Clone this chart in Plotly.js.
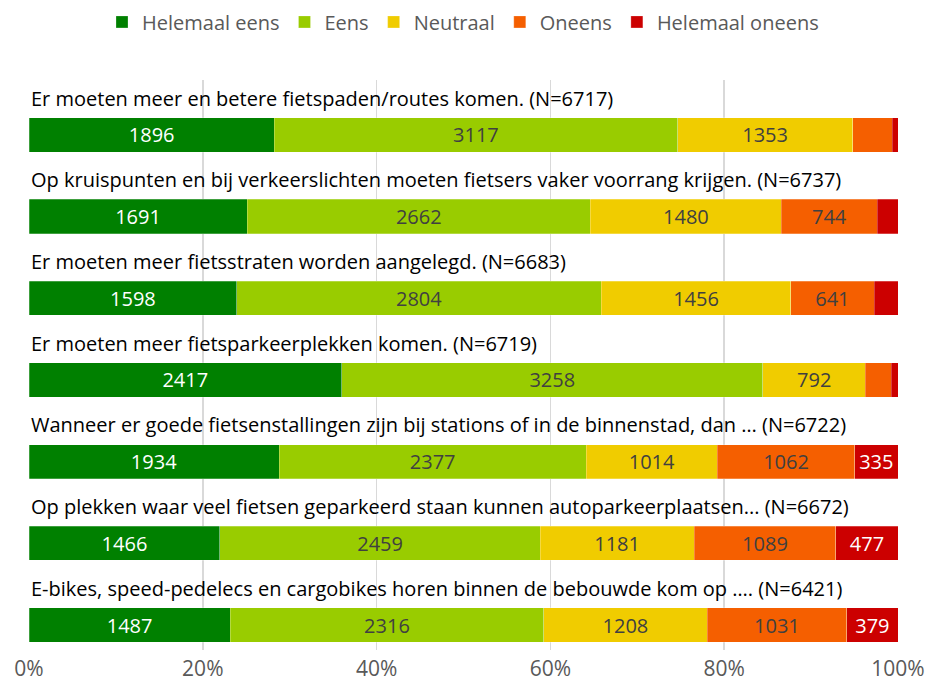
<!DOCTYPE html>
<html>
<head>
<meta charset="utf-8">
<script src="https://cdn.plot.ly/plotly-3.0.1.min.js"></script>
<style>
  html, body { margin: 0; padding: 0; background: #fff; }
  #plot { width: 926px; height: 685px; }
</style>
</head>
<body>
<div id="plot"></div>
<script>
// statements, top to bottom
var statements = [
  "Er moeten meer en betere fietspaden/routes komen. (N=6717)",
  "Op kruispunten en bij verkeerslichten moeten fietsers vaker voorrang krijgen. (N=6737)",
  "Er moeten meer fietsstraten worden aangelegd. (N=6683)",
  "Er moeten meer fietsparkeerplekken komen. (N=6719)",
  "Wanneer er goede fietsenstallingen zijn bij stations of in de binnenstad, dan … (N=6722)",
  "Op plekken waar veel fietsen geparkeerd staan kunnen autoparkeerplaatsen... (N=6672)",
  "E-bikes, speed-pedelecs en cargobikes horen binnen de bebouwde kom op …. (N=6421)"
];

// counts per answer
var helemaalEens   = [1896, 1691, 1598, 2417, 1934, 1466, 1487];
var eens           = [3117, 2662, 2804, 3258, 2377, 2459, 2316];
var neutraal       = [1353, 1480, 1456,  792, 1014, 1181, 1208];
var oneens         = [ 308,  744,  641,  201, 1062, 1089, 1031];
var helemaalOneens = [  43,  160,  184,   51,  335,  477,  379];

var names  = ["Helemaal eens", "Eens", "Neutraal", "Oneens", "Helemaal oneens"];
var colors = ["#008000", "#99cc00", "#f0cc00", "#f55f00", "#cc0000"];
var textColors = ["#ffffff", "#404040", "#404040", "#404040", "#ffffff"];
var series = [helemaalEens, eens, neutraal, oneens, helemaalOneens];

var FONT = "'Open Sans', sans-serif";

var totals = statements.map(function (s, i) {
  return series.reduce(function (acc, arr) { return acc + arr[i]; }, 0);
});
var rows = statements.map(function (s, i) { return i; });

var traces = series.map(function (vals, k) {
  var pct = vals.map(function (v, i) { return v / totals[i] * 100; });
  return {
    type: "bar",
    orientation: "h",
    name: names[k],
    y: rows,
    x: pct,
    width: 0.42,
    text: vals.map(function (v, i) { return pct[i] < 4.8 ? "" : String(v); }),
    textposition: "inside",
    insidetextanchor: "middle",
    textangle: 0,
    insidetextfont: { family: FONT, size: 20, color: textColors[k] },
    hoverinfo: "name+text",
    marker: { color: colors[k], line: { color: "rgba(255,255,255,0.5)", width: 0.5 } }
  };
});

var annotations = statements.map(function (s, i) {
  return {
    x: 0, y: i - 0.45, xref: "x", yref: "y",
    xanchor: "left", yanchor: "middle",
    text: s, showarrow: false,
    font: { family: FONT, size: 20, color: "#000000" }
  };
});

var layout = {
  width: 926,
  height: 685,
  barmode: "stack",
  bargap: 0,
  margin: { l: 29, r: 28, t: 80, b: 35 },
  paper_bgcolor: "#ffffff",
  plot_bgcolor: "#ffffff",
  font: { family: FONT, size: 20, color: "#595959" },
  showlegend: true,
  legend: {
    orientation: "h",
    xref: "container", yref: "container",
    x: 0.5, xanchor: "center",
    y: 0.968, yanchor: "middle",
    font: { family: FONT, size: 20, color: "#595959" },
    traceorder: "normal"
  },
  xaxis: {
    range: [0, 100],
    tickvals: [0, 20, 40, 60, 80, 100],
    ticktext: ["0%", "20%", "40%", "60%", "80%", "100%"],
    showgrid: true,
    gridcolor: "#d9d9d9",
    gridwidth: 1.5,
    zeroline: false,
    showline: false,
    ticklabelstandoff: 4,
    tickfont: { family: FONT, size: 21, color: "#595959" },
    fixedrange: true
  },
  yaxis: {
    range: [6.306, -0.673],
    showticklabels: false,
    showgrid: false,
    zeroline: false,
    showline: false,
    fixedrange: true
  },
  annotations: annotations
};

Plotly.newPlot("plot", traces, layout, { displayModeBar: false, staticPlot: true });
</script>
</body>
</html>
